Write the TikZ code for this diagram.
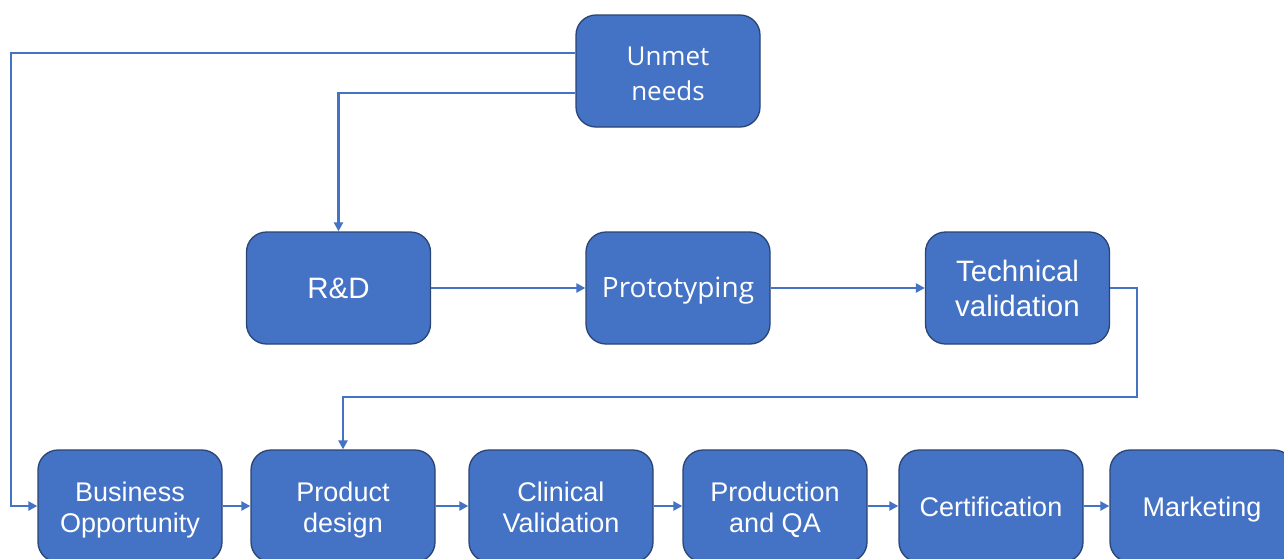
\documentclass[tikz,border=0pt]{standalone}
\usepackage{fontspec}
\setmainfont{Liberation Sans}
\newfontfamily\segoe{Open Sans}
\usetikzlibrary{arrows.meta}
\definecolor{boxfill}{HTML}{4472C4}
\definecolor{boxedge}{HTML}{2A4473}
\definecolor{linkcol}{HTML}{4472C4}
\tikzset{
  stepbox/.style={draw=boxedge, line width=1.3pt, fill=boxfill, rounded corners=20pt,
    minimum width=184pt, minimum height=112pt, inner sep=0pt, text=white, align=center},
  bottomtext/.style={font=\fontsize{27}{30.5}\selectfont, text depth=-2pt},
  midtext/.style={font=\fontsize{29.5}{35}\selectfont},
  segoetext/.style={font=\segoe\fontsize{26}{35}\selectfont},
  conn/.style={draw=linkcol, line width=2.5pt, -{Triangle[length=9pt,width=9pt]}},
}
\begin{document}
\begin{tikzpicture}[x=1pt,y=-1pt]
\useasboundingbox (0,0) rectangle (1284,558);
\clip (0,0) rectangle (1284,558);
\fill[white] (0,0) rectangle (1284,558);

% top
\node[stepbox] (unmet) at (668,71) {};
\node[segoetext, text=white, align=center] at (668,74) {Unmet\\needs};

% middle row
\node[stepbox, midtext] (rd) at (338.5,288) {R\&D};
\node[stepbox] (proto) at (678,288) {};
\node[font=\segoe\fontsize{28}{35}\selectfont, text=white] at (678,291) {Prototyping};
\node[stepbox, midtext] (tech) at (1017.5,288) {Technical\\validation};

% bottom row
\node[stepbox] (bo) at (130,506) {};
\node[stepbox] (pd) at (343,506) {};
\node[stepbox] (cv) at (561,506) {};
\node[stepbox] (pq) at (775,506) {};
\node[stepbox] (cert) at (991,506) {};
\node[stepbox] (mkt) at (1202,506) {};
\foreach \n/\t in {bo/{Business\\Opportunity}, pd/{Product\\design},
    cv/{Clinical\\Validation}, pq/{Production\\and QA},
    cert/{Certification}, mkt/{Marketing}}
  \node[bottomtext, text=white, align=center] at ([yshift=-1pt]\n.center) {\t};

% routing points
\coordinate (c1) at (11,53);
\coordinate (c2) at (339,93);
\coordinate (c3) at (1137,397);

\draw[conn] (unmet.west |- c1) -- (c1) |- (bo.west);
\draw[conn] (unmet.west |- c2) -| (rd.north);
\draw[conn] (rd) -- (proto);
\draw[conn] (proto) -- (tech);
\draw[conn] (tech.east) -| (c3) -| (pd.north);
\draw[conn] (bo) -- (pd);
\draw[conn] (pd) -- (cv);
\draw[conn] (cv) -- (pq);
\draw[conn] (pq) -- (cert);
\draw[conn] (cert) -- (mkt);
\end{tikzpicture}
\end{document}
